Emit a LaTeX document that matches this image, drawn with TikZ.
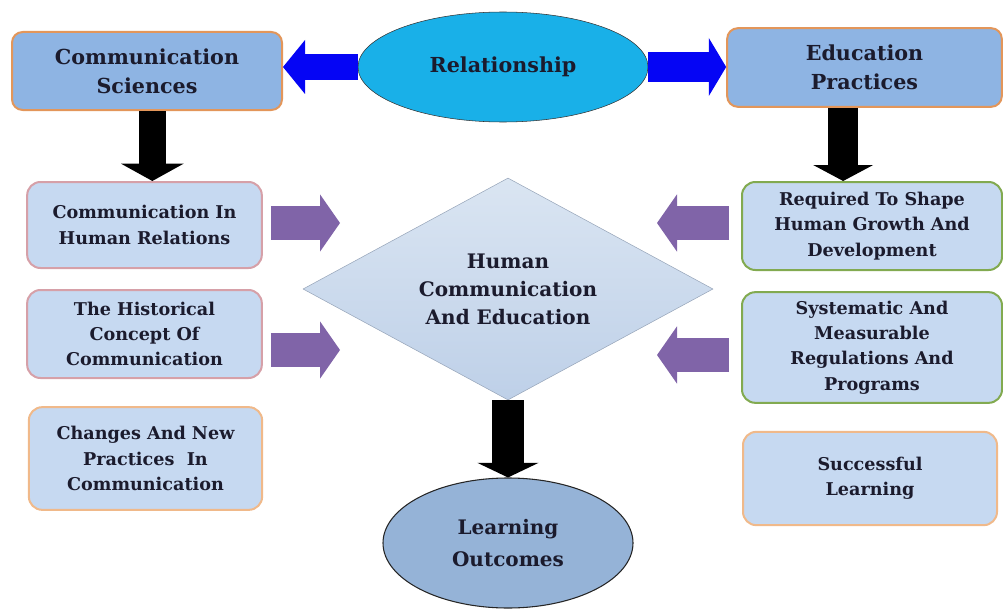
\documentclass[tikz,border=0pt]{standalone}
\usepackage{fontspec}
\setmainfont{DejaVu Serif}
\usepackage{tikz}
\usetikzlibrary{shapes.geometric,arrows.meta}

\definecolor{txt}{RGB}{27,27,45}
\definecolor{topfill}{RGB}{142,180,227}
\definecolor{boxfill}{RGB}{198,217,241}
\definecolor{orangeline}{RGB}{227,150,90}
\definecolor{pinkline}{RGB}{214,160,168}
\definecolor{peachline}{RGB}{240,185,138}
\definecolor{greenline}{RGB}{130,170,80}
\definecolor{relfill}{RGB}{25,176,232}
\definecolor{pureblue}{RGB}{5,5,245}
\definecolor{violet}{RGB}{128,100,168}
\definecolor{lofill}{RGB}{149,179,215}
\definecolor{diatop}{RGB}{218,229,242}
\definecolor{diabottom}{RGB}{190,208,232}

\tikzset{
  mainbox/.style={draw=orangeline,line width=1.5pt,rounded corners=8pt,fill=topfill,
    text=txt,align=center,font=\bfseries\fontsize{15.5}{22}\selectfont},
  subbox/.style={line width=1.5pt,rounded corners=10pt,fill=boxfill,
    text=txt,align=center,font=\bfseries\fontsize{13.2}{19}\selectfont},
  bluearrow/.style={pureblue,line width=#1},
  blackarrow/.style={black,line width=#1},
  violetarrow/.style={violet,line width=25pt,-{Triangle[length=15pt,width=43pt,line width=0pt]}}
}

\begin{document}
\begin{tikzpicture}[x=0.75pt,y=0.75pt,yscale=-1,xscale=1]
\useasboundingbox (0,0) rectangle (1003,610);

% top row
\node [mainbox,minimum width=202.5pt,minimum height=58.5pt] (cs) at (147,71) {Communication\\Sciences};
\node [mainbox,minimum width=206pt,minimum height=59pt] (ep) at (864.5,67.5) {Education\\Practices};
\node [ellipse,draw=black!80,fill=relfill,minimum width=217.5pt,minimum height=82.5pt,
  text=txt,font=\bfseries\fontsize{15.5}{20}\selectfont] (rel) at (503,67) {Relationship};

% left column
\node [subbox,draw=pinkline,minimum width=176pt,minimum height=64.5pt] (hr) at (144.5,225) {Communication In\\Human Relations};
\node [subbox,draw=pinkline,minimum width=176pt,minimum height=66pt] (hc) at (144.5,334) {The Historical\\Concept Of\\Communication};
\node [subbox,draw=peachline,minimum width=175pt,minimum height=77pt] (cn) at (145.5,458.5) {Changes And New\\Practices\ \ In\\Communication};

% right column
\node [subbox,draw=greenline,minimum width=195pt,minimum height=66pt] (gd) at (872,226) {Required To Shape\\Human Growth And\\Development};
\node [subbox,draw=greenline,minimum width=195pt,minimum height=83pt] (sm) at (872,347.5) {Systematic And\\Measurable\\Regulations And\\Programs};
\node [subbox,draw=peachline,minimum width=190.5pt,minimum height=70pt] (sl) at (870,478.5) {Successful\\Learning};

% centre
\node [diamond,aspect=1.85,draw=diabottom!80!black,top color=diatop,bottom color=diabottom,
  minimum width=307.5pt,minimum height=166.5pt,inner sep=0pt,text=txt,align=center,
  font=\bfseries\fontsize{15}{21}\selectfont] (hce) at (508,289) {Human\\Communication\\And Education};
\node [ellipse,draw=black!85,line width=0.8pt,fill=lofill,minimum width=187.5pt,minimum height=97.5pt,
  text=txt,align=center,font=\bfseries\fontsize{15}{24}\selectfont] (lo) at (508,543) {Learning\\Outcomes};

\coordinate (in1) at (340,223);
\coordinate (in2) at (340,350);
\coordinate (out1) at (657,223);
\coordinate (out2) at (657,355);

% block arrows
\draw [bluearrow=19.5pt,-{Triangle[length=16.5pt,width=40.5pt,line width=0pt]}] (rel.west) -- (rel.west -| cs.east);
\draw [bluearrow=22.5pt,-{Triangle[length=13pt,width=43.5pt,line width=0pt]}] (rel.east) -- (rel.east -| ep.west);
\draw [blackarrow=20pt,-{Triangle[length=13pt,width=47pt,line width=0pt]}] ([xshift=4]cs.south) -- ([xshift=4]cs.south |- hr.north);
\draw [blackarrow=22.5pt,-{Triangle[length=12pt,width=45pt,line width=0pt]}] ([xshift=-16]ep.south) -- ([xshift=-16]ep.south |- gd.north);
\draw [blackarrow=24pt,-{Triangle[length=11pt,width=46pt,line width=0pt]}] (hce.south) -- (lo.north);

\draw [violetarrow] ([xshift=6]hr.east |- in1) -- (in1);
\draw [violetarrow] ([xshift=6]hc.east |- in2) -- (in2);
\draw [violetarrow] ([xshift=-9]gd.west |- out1) -- (out1);
\draw [violetarrow] ([xshift=-9]sm.west |- out2) -- (out2);

\end{tikzpicture}
\end{document}
